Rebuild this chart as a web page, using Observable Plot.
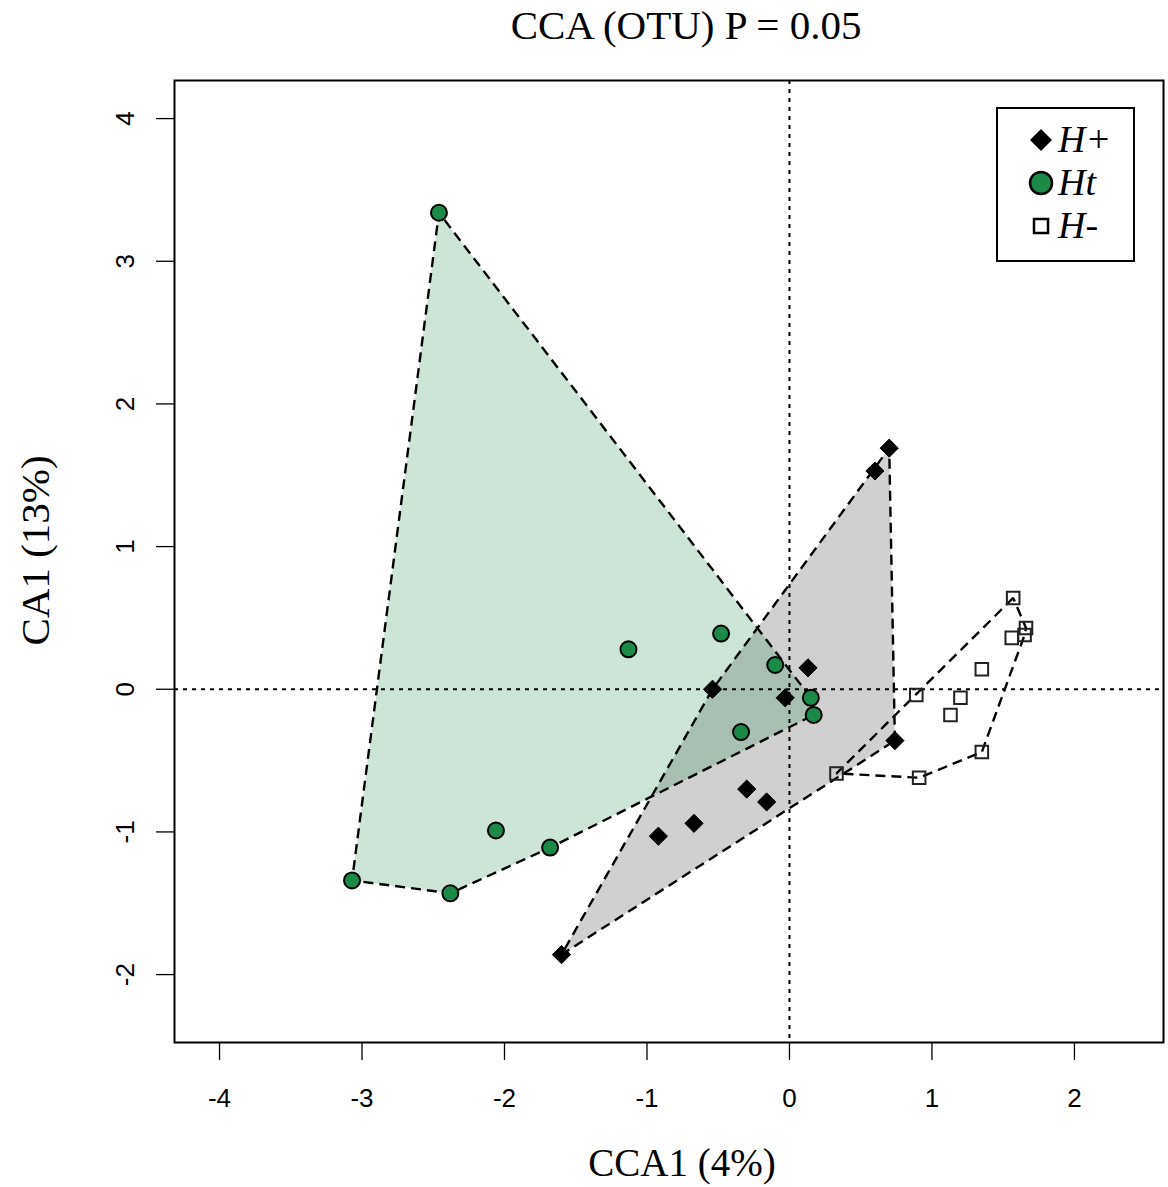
<!DOCTYPE html>
<html><head><meta charset="utf-8">
<script src="https://cdn.jsdelivr.net/npm/d3@7"></script>
<script src="https://cdn.jsdelivr.net/npm/@observablehq/plot@0.6"></script>
<style>
body{margin:0;background:#fff;}
#wrap{position:relative;width:1168px;height:1187px;}
#legend{position:absolute;left:996px;top:107px;}
</style></head><body><div id="wrap"></div>
<script>
// Data
const groups = ["H+", "Ht", "H-"];
const hpX = [0.70, 0.60, 0.13, -0.54, -0.03, 0.74, -0.30, -0.16, -0.67, -0.92, -1.60];
const hpY = [1.69, 1.53, 0.15, 0.00, -0.06, -0.36, -0.70, -0.79, -0.94, -1.03, -1.86];
const htX = [-2.46, -1.13, -0.48, -0.10, 0.15, 0.17, -0.34, -2.06, -1.68, -3.07, -2.38];
const htY = [3.34, 0.28, 0.39, 0.17, -0.06, -0.18, -0.30, -0.99, -1.11, -1.34, -1.43];
const hmX = [1.57, 1.66, 1.65, 1.56, 1.35, 0.89, 1.20, 1.13, 1.35, 0.91, 0.33];
const hmY = [0.64, 0.43, 0.38, 0.36, 0.14, -0.04, -0.06, -0.18, -0.44, -0.62, -0.59];
const xTicks = [-4, -3, -2, -1, 0, 1, 2];
const yTicks = [-2, -1, 0, 1, 2, 3, 4];
const title = "CCA (OTU) P = 0.05";
const xLabel = "CCA1 (4%)";
const yLabel = "CA1 (13%)";

const toRows = (xs, ys, g) => xs.map((x, i) => ({x, y: ys[i], g}));
const hp = toRows(hpX, hpY, groups[0]);
const ht = toRows(htX, htY, groups[1]);
const hm = toRows(hmX, hmY, groups[2]);

const green = "#1b8a47";
const serif = "Liberation Serif, Times New Roman, serif";
const sans = "Liberation Sans, Arial, sans-serif";
const dash = "10,6";

const chart = Plot.plot({
  width: 1168, height: 1187,
  marginLeft: 174, marginRight: 5, marginTop: 80, marginBottom: 145,
  x: {domain: [-4.316, 2.625]},
  y: {domain: [-2.476, 4.267]},
  style: {background: "white", color: "black"},
  marks: [
    // hull fills
    Plot.hull(hp, {x: "x", y: "y", fill: "#808080", fillOpacity: 0.37, stroke: "none"}),
    Plot.hull(ht, {x: "x", y: "y", fill: green, fillOpacity: 0.22, stroke: "none"}),
    // reference lines
    Plot.ruleX([0], {stroke: "black", strokeWidth: 2, strokeDasharray: "4,5"}),
    Plot.ruleY([0], {stroke: "black", strokeWidth: 2, strokeDasharray: "4,5"}),
    // hull outlines
    Plot.hull(hp, {x: "x", y: "y", fill: "none", stroke: "black", strokeWidth: 2.4, strokeDasharray: dash}),
    Plot.hull(ht, {x: "x", y: "y", fill: "none", stroke: "black", strokeWidth: 2.4, strokeDasharray: dash}),
    Plot.hull(hm, {x: "x", y: "y", fill: "none", stroke: "black", strokeWidth: 2.4, strokeDasharray: dash}),
    // points
    Plot.dot(ht, {x: "x", y: "y", symbol: "circle", r: 8, fill: green, stroke: "black", strokeWidth: 2}),
    Plot.dot(hp, {x: "x", y: "y", symbol: "diamond2", r: 8.2, fill: "black", stroke: "black", strokeWidth: 1}),
    Plot.dot(hm, {x: "x", y: "y", symbol: "square2", r: 8, fill: "none", stroke: "#222", strokeWidth: 2}),
    // frame & axes
    Plot.frame({stroke: "black", strokeWidth: 2}),
    Plot.axisX({ticks: xTicks, tickSize: 18, strokeWidth: 1.3, fill: "none", label: null}),
    Plot.axisY({ticks: yTicks, tickSize: 18, strokeWidth: 1.3, fill: "none", label: null}),
    Plot.text(xTicks, {x: d => d, text: d => String(d), frameAnchor: "bottom", lineAnchor: "middle", dy: 56, fontSize: 26, fontFamily: sans}),
    Plot.text(yTicks, {y: d => d, text: d => String(d), frameAnchor: "left", textAnchor: "middle", lineAnchor: "middle", dx: -49, rotate: -90, fontSize: 26, fontFamily: sans}),
    Plot.text([title], {text: d => d, frameAnchor: "top", lineAnchor: "middle", dx: 17, dy: -55, fontSize: 41, fontFamily: serif}),
    Plot.text([xLabel], {text: d => d, frameAnchor: "bottom", lineAnchor: "middle", dx: 13, dy: 121, fontSize: 39, fontFamily: serif}),
    Plot.text([yLabel], {text: d => d, frameAnchor: "left", textAnchor: "middle", lineAnchor: "middle", dx: -139, dy: -11, rotate: -90, fontSize: 41, fontFamily: serif})
  ]
});
const wrap = document.getElementById("wrap");
wrap.appendChild(chart);

// Legend
const leg = d3.select(wrap).append("svg").attr("id", "legend")
  .attr("width", 140).attr("height", 156);
leg.append("rect").attr("x", 1).attr("y", 1).attr("width", 137).attr("height", 153)
  .attr("fill", "white").attr("stroke", "black").attr("stroke-width", 2);
const ly = [33, 76, 119];
leg.append("path").attr("d", `M45,${ly[0]-11}L56,${ly[0]}L45,${ly[0]+11}L34,${ly[0]}Z`).attr("fill", "black");
leg.append("circle").attr("cx", 45).attr("cy", ly[1]).attr("r", 11).attr("fill", green).attr("stroke", "black").attr("stroke-width", 2.5);
leg.append("rect").attr("x", 38).attr("y", ly[2]-7).attr("width", 14).attr("height", 14).attr("fill", "white").attr("stroke", "black").attr("stroke-width", 2.5);
groups.forEach((g, i) => {
  leg.append("text").attr("x", 62).attr("y", ly[i] + 12).text(g)
    .attr("font-family", serif).attr("font-style", "italic").attr("font-size", 38);
});
</script></body></html>
